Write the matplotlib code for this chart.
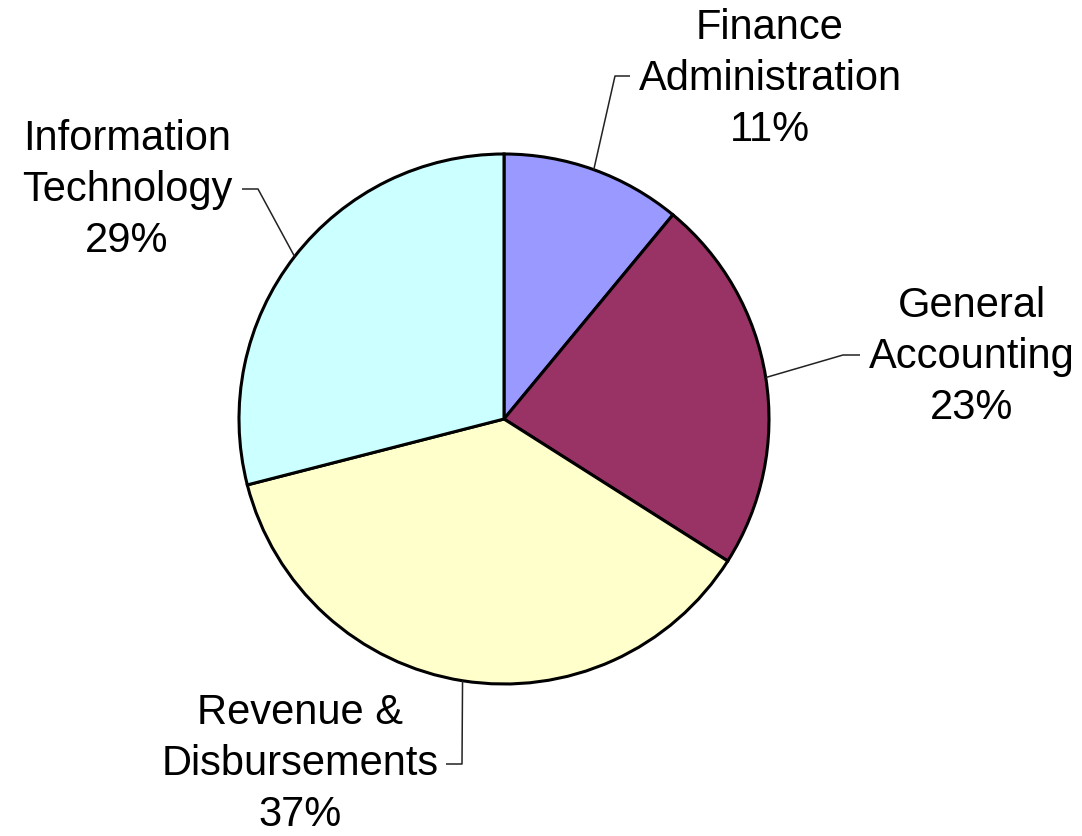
import numpy as np
import matplotlib
matplotlib.use("Agg")
import matplotlib.pyplot as plt

labels = ["Finance\nAdministration", "General\nAccounting",
          "Revenue &\nDisbursements", "Information\nTechnology"]
shares = [11, 23, 37, 29]
colors = ["#9999FF", "#993366", "#FFFFCC", "#CCFFFF"]

W, H = 1082, 836
cx, cy, r = 504, H - 419, 265

# label block centres (pixels) and leader elbow / end points
label_pos = [(770, 79), (972, 357), (300, 764), (127, 190)]
elbows = [((615, 76), (630, 76)), ((843, 355), (860, 355)),
          ((462, 764), (446, 764)), ((258, 189), (242, 189))]

plt.rcParams["font.family"] = ["Liberation Sans", "DejaVu Sans"]
fig = plt.figure(figsize=(W / 100, H / 100), dpi=100)
ax = fig.add_axes([0, 0, 1, 1])

wedges, _ = ax.pie(shares, colors=colors, startangle=90, counterclock=False,
                   center=(cx, cy), radius=r,
                   wedgeprops=dict(edgecolor="black", linewidth=2.2))
ax.set_xlim(0, W)
ax.set_ylim(0, H)
ax.set_aspect("equal")
ax.axis("off")

for w, lab, v, (lx, ly), (e1, e2) in zip(wedges, labels, shares, label_pos, elbows):
    ang = np.deg2rad((w.theta1 + w.theta2) / 2)
    px, py = cx + r * np.cos(ang), cy + r * np.sin(ang)
    ax.plot([px, e1[0], e2[0]], [py, H - e1[1], H - e2[1]],
            color="#222222", lw=1.1, solid_capstyle="butt")
    ax.text(lx, H - ly, f"{lab}\n{v}%", ha="center", va="center",
            fontsize=30, linespacing=1.36, color="black")

fig.savefig("out.png", dpi=100)
